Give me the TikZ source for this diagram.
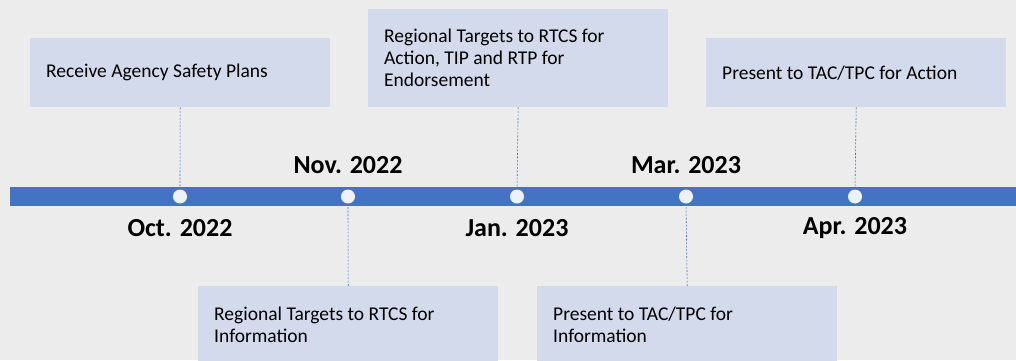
\documentclass[tikz,border=0pt]{standalone}
\usepackage{fontspec}
\setmainfont{Carlito}
\usepackage{tikz}
\usetikzlibrary{positioning}

\definecolor{barblue}{RGB}{68,114,196}
\definecolor{boxfill}{RGB}{211,218,236}
\definecolor{bggray}{RGB}{236,236,236}
\definecolor{dotfill}{RGB}{236,241,250}

\newcommand{\nohyph}{\hyphenpenalty=10000 \exhyphenpenalty=10000 \relax}

\tikzset{
  stepbox/.style={rectangle, fill=boxfill, draw=none, minimum width=300pt,
    text width=268pt, inner xsep=16pt, align=flush left,
    font=\fontsize{19.5}{22}\selectfont\nohyph},
  datelabel/.style={font=\fontsize{26}{30}\selectfont\bfseries},
  milestone/.style={circle, fill=dotfill, draw=none, minimum size=14pt, inner sep=0pt},
  leader/.style={barblue, line width=0.6pt, dash pattern=on 2pt off 1.5pt}
}

\begin{document}
\begin{tikzpicture}[x=1pt, y=-1pt]
    % Background
    \fill[bggray] (0, 0) rectangle (1016, 360);
    \useasboundingbox (0, 0) rectangle (1016, 360);

    % Timeline bar
    \fill[barblue] (10, 187) rectangle (1016, 206);

    % Milestones
    \node[milestone] (oct) at (180, 196.5) {};
    \node[milestone] (nov) at (348, 196.5) {};
    \node[milestone] (jan) at (517, 196.5) {};
    \node[milestone] (mar) at (686, 196.5) {};
    \node[milestone] (apr) at (855, 196.5) {};

    % Dates
    \node[datelabel] (octdate) at (180, 228) {Oct. 2022};
    \node[datelabel] (novdate) at (348, 165) {Nov. 2022};
    \node[datelabel] (jandate) at (517, 228) {Jan. 2023};
    \node[datelabel] (mardate) at (686, 165) {Mar. 2023};
    \node[datelabel] (aprdate) at (855, 228) {Apr. 2023};

    % Boxes above the bar
    \node[stepbox, minimum height=69pt, anchor=north west] (plans) at (30, 38)
        {Receive Agency Safety Plans};
    \node[stepbox, minimum height=98pt, anchor=north west] (endorse) at (368, 9)
        {Regional Targets to RTCS for Action, TIP and RTP for Endorsement};
    \node[stepbox, minimum height=69pt, anchor=north west] (action) at (706, 38)
        {Present to TAC/TPC for Action};

    % Boxes below the bar
    \node[stepbox, minimum height=78pt, anchor=north west] (rtcsinfo) at (198, 286)
        {Regional Targets to RTCS for Information};
    \node[stepbox, minimum height=78pt, anchor=north west] (tacinfo) at (537, 286)
        {Present to TAC/TPC for Information};

    % Leaders
    \draw[leader] (plans.south) -- (oct.north);
    \draw[leader] (endorse.south) -- (jan.north);
    \draw[leader] (action.south) -- (apr.north);
    \draw[leader] (nov.south) -- (rtcsinfo.north);
    \draw[leader] (mar.south) -- (tacinfo.north);
\end{tikzpicture}
\end{document}
